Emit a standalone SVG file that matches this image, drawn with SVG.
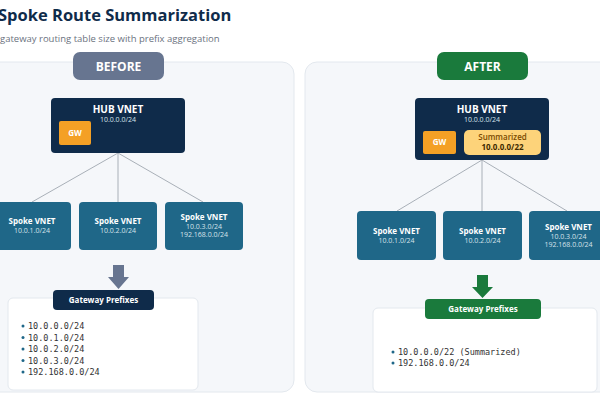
<svg xmlns="http://www.w3.org/2000/svg" width="600" height="400" viewBox="0 0 600 400">
<style>
text{font-family:"Open Sans","Liberation Sans",sans-serif}
.panel{fill:#f5f7fa;stroke:#e3e8ee;stroke-width:1}
.hub{fill:#0f2b4a}
.spoke{fill:#1f6788}
.gw{fill:#f4a025}
.t1{fill:#fff;font-weight:bold;font-size:8px;text-anchor:middle}
.t2{fill:#d6e2ea;font-size:7px;text-anchor:middle}
.hubt{fill:#fff;font-weight:bold;font-size:10px;text-anchor:middle}
.pill{fill:#fff;font-weight:bold;font-size:12px;text-anchor:middle}
.box{fill:#fff;stroke:#e3e8ee}
.mono{font-family:"DejaVu Sans Mono","Liberation Mono",monospace;font-size:8.5px;fill:#333}
.dot{fill:#1f6788}
.ln{stroke:#a9b0b8;stroke-width:1;fill:none}
</style>
<rect width="600" height="400" fill="#fff"/>
<text x="-2" y="21" font-size="16.5" font-weight="bold" fill="#0f2b4a">Spoke Route Summarization</text>
<text x="0" y="42" font-size="9.5" fill="#6b7280">gateway routing table size with prefix aggregation</text>
<rect class="panel" x="-12" y="62" width="306" height="330" rx="12"/>
<rect class="panel" x="305" y="62" width="310" height="330" rx="12"/>
<g id="connectors">
<path class="ln" d="M118 153L32 202M118 153L118 202M118 153L203 202"/>
<path class="ln" d="M482 160L397 211M482 160L482 211M482 160L567 211"/>
<path d="M113 265H124V277H129L118.5 289L108 277H113Z" fill="#677590"/>
<path d="M477 275H488V287H493L482.5 298L472 287H477Z" fill="#1a7a3c"/>
</g>
<g id="before-label"><rect x="73" y="52" width="91" height="28" rx="7" fill="#677590"/><text class="pill" x="118.5" y="71">BEFORE</text></g>
<g id="after-label"><rect x="437" y="52" width="91" height="28" rx="7" fill="#1a7a3c"/><text class="pill" x="482.5" y="71">AFTER</text></g>
<g id="hub-before"><rect class="hub" x="51" y="98" width="134" height="55" rx="4"/><text class="hubt" x="118" y="113">HUB VNET</text><text class="t2" x="118" y="122">10.0.0.0/24</text>
<rect class="gw" x="59" y="121" width="32" height="24" rx="2"/><text class="t1" x="75" y="136">GW</text></g>
<g id="spokes-before">
<rect class="spoke" x="-8" y="202" width="79" height="48" rx="4"/><text class="t1" x="32" y="224">Spoke VNET</text><text class="t2" x="32" y="233">10.0.1.0/24</text>
<rect class="spoke" x="79" y="202" width="78" height="48" rx="4"/><text class="t1" x="118" y="224">Spoke VNET</text><text class="t2" x="118" y="233">10.0.2.0/24</text>
<rect class="spoke" x="165" y="202" width="78" height="48" rx="4"/><text class="t1" x="204" y="220">Spoke VNET</text><text class="t2" x="204" y="229">10.0.3.0/24</text><text class="t2" x="204" y="237">192.168.0.0/24</text>
</g>
<g id="prefixes-before">
<rect class="box" x="8" y="298" width="190" height="92" rx="5"/>
<rect class="hub" x="53" y="290" width="101" height="20" rx="4"/><text class="t1" x="103.5" y="303" font-size="7">Gateway Prefixes</text>
<g class="dot"><circle cx="23" cy="326" r="1.5"/><circle cx="23" cy="337.5" r="1.5"/><circle cx="23" cy="349" r="1.5"/><circle cx="23" cy="360.5" r="1.5"/><circle cx="23" cy="372" r="1.5"/></g>
<text class="mono" x="28" y="329">10.0.0.0/24</text><text class="mono" x="28" y="340.5">10.0.1.0/24</text><text class="mono" x="28" y="352">10.0.2.0/24</text><text class="mono" x="28" y="363.5">10.0.3.0/24</text><text class="mono" x="28" y="375">192.168.0.0/24</text>
</g>
<g id="hub-after"><rect class="hub" x="415" y="98" width="134" height="62" rx="4"/><text class="hubt" x="482" y="113">HUB VNET</text><text class="t2" x="482" y="122">10.0.0.0/24</text>
<rect class="gw" x="423" y="131" width="33" height="23" rx="2"/><text class="t1" x="439.5" y="145">GW</text>
<rect x="464" y="130" width="77" height="25" rx="5" fill="#fdd37a"/><text class="t1" x="502.5" y="140" style="fill:#7a4a00;font-weight:600">Summarized</text><text class="t1" x="502.5" y="150" style="fill:#3d2a00">10.0.0.0/22</text></g>
<g id="spokes-after">
<rect class="spoke" x="357" y="211" width="79" height="49" rx="4"/><text class="t1" x="396.5" y="234">Spoke VNET</text><text class="t2" x="396.5" y="243">10.0.1.0/24</text>
<rect class="spoke" x="443" y="211" width="79" height="49" rx="4"/><text class="t1" x="482.5" y="234">Spoke VNET</text><text class="t2" x="482.5" y="243">10.0.2.0/24</text>
<rect class="spoke" x="529" y="211" width="79" height="49" rx="4"/><text class="t1" x="568.5" y="230">Spoke VNET</text><text class="t2" x="568.5" y="239">10.0.3.0/24</text><text class="t2" x="568.5" y="247">192.168.0.0/24</text>
</g>
<g id="prefixes-after">
<rect class="box" x="373" y="308" width="224" height="84" rx="5"/>
<rect x="425" y="299" width="116" height="20" rx="4" fill="#1a7a3c"/><text class="t1" x="483" y="312" font-size="7">Gateway Prefixes</text>
<g class="dot"><circle cx="393" cy="352" r="1.5"/><circle cx="393" cy="363" r="1.5"/></g>
<text class="mono" x="398" y="355">10.0.0.0/22 (Summarized)</text><text class="mono" x="398" y="366">192.168.0.0/24</text>
</g>
</svg>
